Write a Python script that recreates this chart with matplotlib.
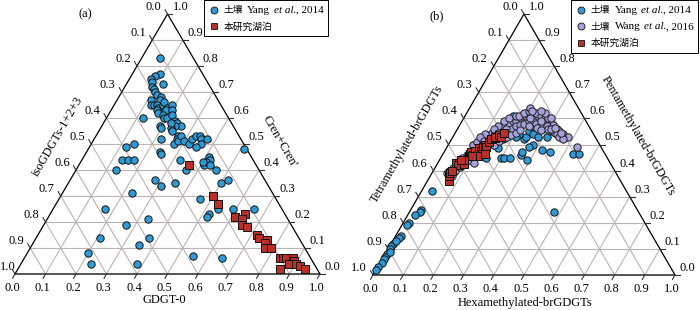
import numpy as np
import matplotlib
matplotlib.use("Agg")
import matplotlib.pyplot as plt
from matplotlib.lines import Line2D
from matplotlib.offsetbox import TextArea, DrawingArea, HPacker, VPacker, AnchoredOffsetbox

plt.rcParams['font.family'] = ['Liberation Serif', 'Noto Sans CJK SC']

# ---- (a) isoGDGT ternary: GDGT-0 (bottom), Cren+Cren' (right); iso = 1 - both
soil_gdgt0 = [0.06, 0.09, 0.08, 0.07, 0.08, 0.09, 0.10, 0.11, 0.12, 0.12, 0.14, 0.14, 0.11, 0.12,
              0.13, 0.14, 0.15, 0.16, 0.16, 0.18, 0.18, 0.15, 0.16, 0.18, 0.19, 0.20, 0.19, 0.20,
              0.21, 0.23, 0.24, 0.26, 0.24, 0.23, 0.19, 0.20, 0.12, 0.22, 0.24, 0.27, 0.27, 0.27,
              0.28, 0.28, 0.30, 0.32, 0.32, 0.33, 0.34, 0.35, 0.36, 0.35, 0.37, 0.41, 0.42, 0.41,
              0.41, 0.43, 0.46, 0.40, 0.32, 0.36, 0.22, 0.24, 0.25, 0.14, 0.12, 0.13, 0.15, 0.17,
              0.13, 0.28, 0.31, 0.35, 0.23, 0.51, 0.52, 0.50, 0.46, 0.52, 0.52, 0.54, 0.59, 0.66,
              0.17, 0.33, 0.27, 0.21, 0.37, 0.35, 0.20, 0.23, 0.38, 0.55, 0.65]
soil_cren = [0.83, 0.77, 0.76, 0.75, 0.74, 0.72, 0.71, 0.70, 0.69, 0.73, 0.68, 0.67, 0.67, 0.65,
             0.65, 0.65, 0.64, 0.65, 0.66, 0.64, 0.63, 0.63, 0.62, 0.61, 0.60, 0.60, 0.65, 0.63,
             0.61, 0.59, 0.58, 0.57, 0.57, 0.56, 0.57, 0.56, 0.60, 0.58, 0.55, 0.53, 0.52, 0.50,
             0.51, 0.53, 0.51, 0.50, 0.52, 0.53, 0.53, 0.52, 0.50, 0.49, 0.52, 0.45, 0.44, 0.43,
             0.42, 0.42, 0.40, 0.43, 0.44, 0.40, 0.52, 0.47, 0.46, 0.50, 0.49, 0.44, 0.44, 0.44,
             0.40, 0.36, 0.34, 0.35, 0.31, 0.48, 0.36, 0.35, 0.29, 0.23, 0.22, 0.25, 0.25, 0.25,
             0.25, 0.21, 0.19, 0.14, 0.14, 0.11, 0.08, 0.04, 0.04, 0.07, 0.06]
lake_gdgt0 = [0.36, 0.50, 0.53, 0.61, 0.64, 0.64, 0.65, 0.67, 0.72, 0.73, 0.76, 0.76, 0.77, 0.79,
              0.84, 0.85, 0.86, 0.88, 0.89, 0.88, 0.90, 0.86, 0.92, 0.94]
lake_cren = [0.42, 0.30, 0.27, 0.22, 0.23, 0.21, 0.19, 0.18, 0.15, 0.14, 0.13, 0.12, 0.10, 0.10,
             0.06, 0.06, 0.06, 0.06, 0.05, 0.04, 0.04, 0.02, 0.03, 0.02]

# ---- (b) brGDGT ternary: Hexa (bottom), Penta (right); Tetra = 1 - both
yang_hexa = [0.035, 0.035, 0.034, 0.024, 0.018, 0.016, 0.018, 0.015, 0.006, 0.005, 0.006, 0.007,
             0.006, 0.006, 0.006, 0.003, 0.001, 0.010, 0.012, 0.48, 0.43, 0.45,
             0.20, 0.21, 0.23, 0.26, 0.26, 0.29, 0.28, 0.27, 0.32, 0.35, 0.24, 0.24, 0.24, 0.26,
             0.28, 0.31, 0.31, 0.16, 0.08, 0.215, 0.21, 0.32, 0.345, 0.06, 0.07, 0.15, 0.17, 0.18,
             0.15, 0.17, 0.28, 0.24, 0.365]
yang_penta = [0.32, 0.25, 0.24, 0.23, 0.20, 0.19, 0.15, 0.14, 0.12, 0.11, 0.10, 0.08,
              0.07, 0.06, 0.045, 0.03, 0.02, 0.09, 0.13, 0.24, 0.465, 0.465,
              0.45, 0.45, 0.45, 0.46, 0.47, 0.44, 0.50, 0.49, 0.48, 0.47, 0.52, 0.53, 0.55, 0.54,
              0.53, 0.53, 0.55, 0.61, 0.50, 0.54, 0.53, 0.55, 0.54, 0.39, 0.41, 0.50, 0.52, 0.54,
              0.45, 0.485, 0.56, 0.57, 0.53]
wang_hexa = [0.05, 0.05, 0.07, 0.07, 0.08, 0.09, 0.10, 0.12, 0.08, 0.08, 0.09, 0.09, 0.10, 0.11,
             0.08, 0.09, 0.10, 0.11, 0.12, 0.12, 0.13, 0.14, 0.15, 0.16, 0.17, 0.18, 0.19, 0.19,
             0.20, 0.21, 0.23, 0.24, 0.25, 0.27, 0.28, 0.30, 0.31, 0.33, 0.34, 0.36, 0.38, 0.11,
             0.12, 0.13, 0.14, 0.15, 0.16, 0.17, 0.18, 0.19, 0.20, 0.21, 0.22, 0.24, 0.25, 0.27,
             0.29, 0.30, 0.33, 0.36, 0.14, 0.15, 0.17, 0.18, 0.19, 0.20, 0.23, 0.25, 0.27, 0.28,
             0.29, 0.15, 0.16, 0.17, 0.18, 0.19, 0.20, 0.21, 0.07, 0.07, 0.08, 0.34, 0.35, 0.37,
             0.43, 0.20, 0.22, 0.26, 0.23, 0.26, 0.28, 0.31, 0.32, 0.35, 0.13, 0.12, 0.10, 0.09,
             0.11, 0.14, 0.16, 0.06, 0.06, 0.07, 0.26, 0.21, 0.24]
wang_penta = [0.39, 0.40, 0.39, 0.41, 0.42, 0.43, 0.44, 0.43, 0.45, 0.46, 0.47, 0.48, 0.49, 0.49,
              0.50, 0.51, 0.52, 0.53, 0.54, 0.545, 0.55, 0.56, 0.57, 0.58, 0.59, 0.59, 0.60, 0.61,
              0.61, 0.61, 0.61, 0.60, 0.60, 0.59, 0.59, 0.58, 0.575, 0.56, 0.55, 0.54, 0.53, 0.50,
              0.51, 0.52, 0.53, 0.54, 0.545, 0.55, 0.56, 0.57, 0.575, 0.58, 0.59, 0.585, 0.58, 0.575,
              0.57, 0.56, 0.545, 0.53, 0.59, 0.60, 0.61, 0.61, 0.62, 0.63, 0.62, 0.61, 0.60, 0.60,
              0.60, 0.50, 0.515, 0.525, 0.53, 0.535, 0.545, 0.555, 0.38, 0.40, 0.415, 0.54, 0.53, 0.52,
              0.49, 0.64, 0.60, 0.59, 0.57, 0.565, 0.555, 0.56, 0.565, 0.545, 0.57, 0.56, 0.54, 0.53,
              0.515, 0.545, 0.56, 0.41, 0.43, 0.45, 0.62, 0.63, 0.63]
lake_hexa = [0.07, 0.06, 0.06, 0.06, 0.07, 0.07, 0.09, 0.09, 0.09, 0.09, 0.10, 0.10, 0.11, 0.12,
             0.12, 0.12, 0.13, 0.13, 0.13, 0.14, 0.14, 0.15, 0.16, 0.16, 0.13, 0.12, 0.14, 0.08,
             0.10, 0.06, 0.07]
lake_penta = [0.36, 0.38, 0.39, 0.43, 0.43, 0.42, 0.425, 0.455, 0.465, 0.47, 0.46, 0.475, 0.485, 0.475,
              0.49, 0.50, 0.49, 0.51, 0.52, 0.525, 0.53, 0.535, 0.53, 0.545, 0.465, 0.455, 0.465, 0.44,
              0.455, 0.40, 0.44]

tick_vals = np.round(np.arange(0, 1.01, 0.1), 1)

BLUE = '#2f9bd6'
PURPLE = '#a6a2dc'
RED = '#b8302a'
GRID = '#bcb4b4'
H = np.sqrt(3) / 2


def tern(b, r):
    b = np.asarray(b, dtype=float)
    r = np.asarray(r, dtype=float)
    return b + r / 2, r * H


def draw_frame(ax, hp, vp):
    # hp / vp: data units per pixel, horizontal / vertical
    for t in tick_vals[1:-1]:
        for bb, rr in [([0, 1 - t], [t, t]), ([t, t], [0, 1 - t]), ([0, 1 - t], [1 - t, 0])]:
            x, y = tern(bb, rr)
            ax.plot(x, y, color=GRID, lw=0.8, zorder=1)
    x, y = tern([0, 1], [0, 0])
    ax.plot(x, y, color='#555555', lw=1.4, zorder=2, solid_capstyle='butt')
    x, y = tern([0, 0, 1], [0, 1, 0])
    ax.plot(x, y, color='black', lw=0.9, zorder=2)
    L = 5
    for t in tick_vals:
        lab = '%.1f' % t
        # bottom axis
        x0, y0 = tern(t, 0)
        ax.plot([x0, x0 - 0.5 * L * hp], [y0, y0 - H * L * vp], color='#333333', lw=0.8)
        ax.text(x0 - 3 * hp, y0 - 14 * vp, lab, ha='center', va='center', fontsize=9)
        # right axis
        x0, y0 = tern(1 - t, t)
        ax.plot([x0, x0 + L * hp], [y0, y0], color='#333333', lw=0.8)
        ax.text(x0 + 5 * hp, y0 + 7 * vp, lab, ha='left', va='center', fontsize=9)
        # left axis
        x0, y0 = tern(0, 1 - t)
        ax.plot([x0, x0 - 0.5 * L * hp], [y0, y0 + H * L * vp], color='#333333', lw=0.8)
        xl = max(x0 - 14 * hp, ax.get_xlim()[0] + 8 * hp)
        ax.text(xl, y0 + 7 * vp, lab, ha='center', va='center', fontsize=9)


def legend_row(marker, color, parts):
    da = DrawingArea(8, 8, 0, 0)
    da.add_artist(Line2D([4], [4], marker=marker, ms=5, mfc=color, mec='#111111', mew=0.6, ls=''))
    texts = []
    for txt, style in parts:
        if style == 'cjk':
            props = dict(fontfamily=['Noto Sans CJK SC'], fontsize=7)
        elif style == 'it':
            props = dict(fontfamily=['Liberation Serif'], fontstyle='italic', fontsize=8)
        else:
            props = dict(fontfamily=['Liberation Serif'], fontsize=8)
        texts.append(TextArea(txt, textprops=props))
    if len(texts) > 1:
        latin = HPacker(children=[texts[1], HPacker(children=texts[2:], align='baseline', pad=0, sep=0)],
                        align='baseline', pad=0, sep=2.5)
        body = HPacker(children=[texts[0], latin], align='baseline', pad=0, sep=3)
    else:
        body = texts[0]
    return HPacker(children=[da, body], align='center', pad=0, sep=3)


def add_legend(fig, rows, anchor):
    box = AnchoredOffsetbox(loc='upper right', child=VPacker(children=rows, align='left', pad=0, sep=4),
                            pad=0.3, borderpad=0, frameon=True, bbox_to_anchor=anchor,
                            bbox_transform=fig.transFigure)
    box.patch.set_boxstyle('square', pad=0)
    box.patch.set_edgecolor('black')
    box.patch.set_linewidth(0.7)
    fig.add_artist(box)


fig = plt.figure(figsize=(7, 3.1), dpi=100)

# ---------------- panel (a)
axa = fig.add_axes([0, 0, 0.5, 1])
ha_, va_ = 1 / 305, H / 260
axa.set_xlim(-15 * ha_, 335 * ha_)
axa.set_ylim(-36 * va_, H + 14 * va_)
axa.axis('off')
draw_frame(axa, ha_, va_)
x, y = tern(soil_gdgt0, soil_cren)
axa.scatter(x, y, s=28, c=BLUE, edgecolors='#111111', linewidths=0.7, zorder=3)
x, y = tern(lake_gdgt0, lake_cren)
axa.scatter(x, y, s=26, marker='s', c=RED, edgecolors='#111111', linewidths=0.7, zorder=4)
axa.text(0.49, -26 * va_, 'GDGT-0', ha='center', va='center', fontsize=9)
axa.text(0.141, 138 * va_, 'isoGDGTs-1+2+3', ha='center', va='center', rotation=60, fontsize=9)
axa.text(0.869, 132 * va_, "Cren+Cren'", ha='center', va='center', rotation=-60, fontsize=9)
axa.text(0.23, 260 * va_, '(a)', ha='center', va='center', fontsize=9)

add_legend(fig, [
    legend_row('o', BLUE, [('土壤', 'cjk'), ('Yang', 'rm'), ('et al.', 'it'), (', 2014', 'rm')]),
    legend_row('s', RED, [('本研究湖泊', 'cjk')]),
], (328 / 700, 1.0))

# ---------------- panel (b)
axb = fig.add_axes([0.5, 0, 0.5, 1])
hb_, vb_ = 1 / 302, H / 261
axb.set_xlim(-23 * hb_, 327 * hb_)
axb.set_ylim(-35 * vb_, H + 14 * vb_)
axb.axis('off')
draw_frame(axb, hb_, vb_)
x, y = tern(yang_hexa, yang_penta)
axb.scatter(x, y, s=28, c=BLUE, edgecolors='#111111', linewidths=0.7, zorder=3)
x, y = tern(wang_hexa, wang_penta)
axb.scatter(x, y, s=28, c=PURPLE, edgecolors='#222222', linewidths=0.7, zorder=4)
x, y = tern(lake_hexa, lake_penta)
axb.scatter(x, y, s=26, marker='s', c=RED, edgecolors='#111111', linewidths=0.7, zorder=5)
axb.text(0.503, -28 * vb_, 'Hexamethylated-brGDGTs', ha='center', va='center', fontsize=9)
axb.text(0.113, 131 * vb_, 'Tetramethylated-brGDGTs', ha='center', va='center', rotation=60, fontsize=9)
axb.text(0.877, 139 * vb_, 'Pentamethylated-brGDGTs', ha='center', va='center', rotation=-60, fontsize=9)
axb.text(0.212, 259 * vb_, '(b)', ha='center', va='center', fontsize=9)

add_legend(fig, [
    legend_row('o', BLUE, [('土壤', 'cjk'), ('Yang', 'rm'), ('et al.', 'it'), (', 2014', 'rm')]),
    legend_row('o', PURPLE, [('土壤', 'cjk'), ('Wang', 'rm'), ('et al.', 'it'), (', 2016', 'rm')]),
    legend_row('s', RED, [('本研究湖泊', 'cjk')]),
], (698 / 700, 1.0))

fig.savefig('out.png', dpi=100)
